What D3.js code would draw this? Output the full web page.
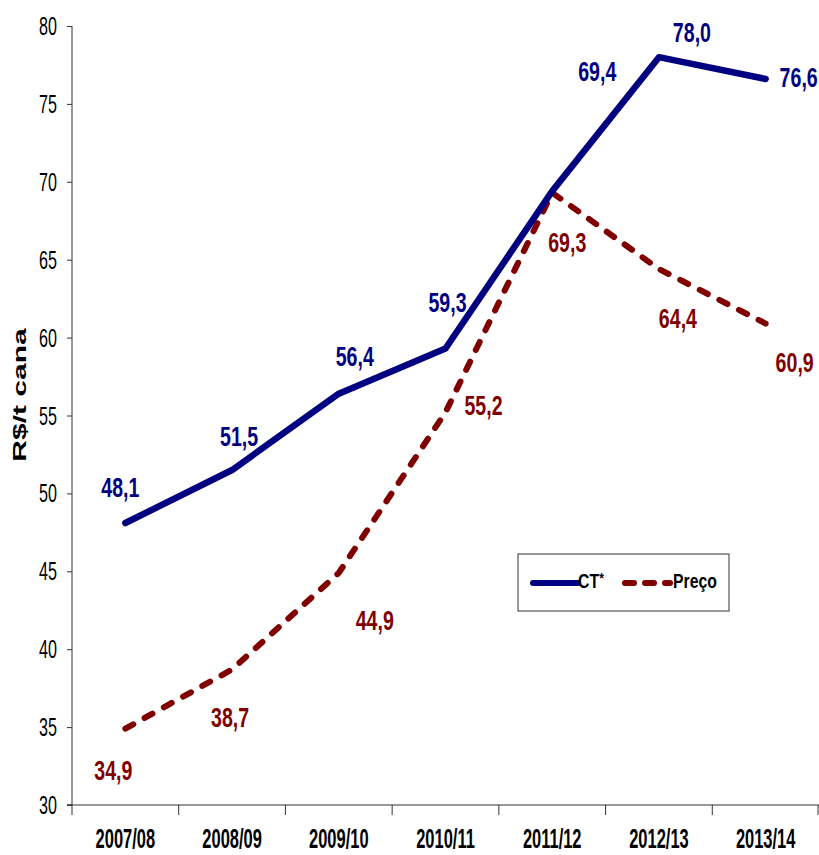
<!DOCTYPE html>
<html>
<head>
<meta charset="utf-8">
<script src="https://cdn.jsdelivr.net/npm/d3@7"></script>
<style>
  body { margin: 0; background: #fff; }
  svg { display: block; font-family: 'Liberation Sans', Arial, sans-serif; }
</style>
</head>
<body>
<script>
const seasons = ['2007/08', '2008/09', '2009/10', '2010/11', '2011/12', '2012/13', '2013/14'];
const ctValues = [48.1, 51.5, 56.4, 59.3, 69.4, 78.0, 76.6];
const precoValues = [34.9, 38.7, 44.9, 55.2, 69.3, 64.4, 60.9];
const yTicks = [30, 35, 40, 45, 50, 55, 60, 65, 70, 75, 80];
const seriesNames = ['CT', 'Preço'];
const yTitle = 'R$/t cana';

// where the data labels sit, relative to their point (layout only)
const ctLabelShift = [[-5, -26], [7, -24], [16, -28], [2, -37], [45, -110], [33, -15], [33, 8]];
const precoLabelShift = [[-12, 51], [-2, 58], [36, 57], [38, 3], [15, 59], [19, 59], [29, 48]];

const [w, h] = [819, 855];
const margin = {top: 26, right: 0, bottom: 50, left: 72};
const navy = '#000080', maroon = '#800000';

const svg = d3.select('body')
    .append('svg')
    .attr('width', w)
    .attr('height', h);

const xScale = d3.scaleBand()
    .domain(seasons)
    .range([margin.left, w - margin.right]);

const yScale = d3.scaleLinear()
    .domain([30, 80])
    .range([h - margin.bottom, margin.top]);

const fmt = v => d3.format('.1f')(v).replace('.', ',');
const cx = i => xScale(seasons[i]) + xScale.bandwidth() / 2;

// text in the picture is squeezed sideways, so scale each label in x
function squashed(parent, x, y, str, size, sx, weight, color) {
    return parent.append('text')
        .attr('transform', `translate(${x},${y}) scale(${sx},1)`)
        .attr('text-anchor', 'middle')
        .attr('font-size', size + 'px')
        .attr('font-weight', weight)
        .attr('fill', color)
        .text(str);
}

//axes
const yAxis = svg.append('g')
    .attr('transform', `translate(${margin.left},0)`)
    .call(d3.axisLeft(yScale).tickValues(yTicks).tickSize(5).tickFormat(''));
yAxis.select('.domain').attr('stroke', '#333').attr('d', `M-5,${yScale(30)}H0V${yScale(80)}`);
yAxis.selectAll('.tick line').attr('stroke', '#333');

const xAxis = svg.append('g')
    .attr('transform', `translate(0,${yScale(30)})`);
xAxis.append('line')
    .attr('x1', margin.left - 5).attr('x2', w)
    .attr('stroke', '#333');
xAxis.selectAll('line.tk')
    .data(seasons.concat(['end']))
    .join('line')
    .attr('class', 'tk')
    .attr('x1', (d, i) => i < seasons.length ? xScale(d) : w - 1)
    .attr('x2', (d, i) => i < seasons.length ? xScale(d) : w - 1)
    .attr('y1', 0).attr('y2', 10)
    .attr('stroke', '#333');

const labels = svg.append('g');
yTicks.forEach(t => squashed(labels, 48, yScale(t) + 9, String(t), 26, 0.62, 'normal', '#000'));
seasons.forEach((s, i) => squashed(labels, cx(i), 848, s, 27, 0.61, 'bold', '#000'));

svg.append('text')
    .attr('transform', `translate(26,395) rotate(-90) scale(1,0.6)`)
    .attr('text-anchor', 'middle')
    .attr('font-size', '30px')
    .attr('font-weight', 'bold')
    .text(yTitle);

//lines
const line = d3.line()
    .x((d, i) => cx(i))
    .y(d => yScale(d));

svg.append('path')
    .datum(precoValues)
    .attr('d', line)
    .attr('fill', 'none')
    .attr('stroke', maroon)
    .attr('stroke-width', 6)
    .attr('stroke-linecap', 'round')
    .attr('stroke-linejoin', 'round')
    .attr('stroke-dasharray', '9,13');

svg.append('path')
    .datum(ctValues)
    .attr('d', line)
    .attr('fill', 'none')
    .attr('stroke', navy)
    .attr('stroke-width', 6.5)
    .attr('stroke-linecap', 'round')
    .attr('stroke-linejoin', 'round');

//data labels
const dataLabels = svg.append('g');
ctValues.forEach((v, i) => squashed(dataLabels, cx(i) + ctLabelShift[i][0], yScale(v) + ctLabelShift[i][1], fmt(v), 28, 0.7, 'bold', navy));
precoValues.forEach((v, i) => squashed(dataLabels, cx(i) + precoLabelShift[i][0], yScale(v) + precoLabelShift[i][1], fmt(v), 28, 0.7, 'bold', maroon));

//legend
const legend = svg.append('g').attr('transform', 'translate(518,554)');
legend.append('rect')
    .attr('width', 211).attr('height', 57)
    .attr('fill', '#fff')
    .attr('stroke', '#333');
legend.append('line')
    .attr('x1', 15).attr('x2', 60).attr('y1', 29).attr('y2', 29)
    .attr('stroke', navy).attr('stroke-width', 6).attr('stroke-linecap', 'round');
const ct = squashed(legend, 73, 34, seriesNames[0], 19.5, 0.81, 'bold', '#000');
ct.append('tspan').attr('font-size', '15px').attr('dy', -5).text('*');
legend.append('line')
    .attr('x1', 107).attr('x2', 152).attr('y1', 29).attr('y2', 29)
    .attr('stroke', maroon).attr('stroke-width', 6).attr('stroke-linecap', 'round')
    .attr('stroke-dasharray', '9,11');
squashed(legend, 177, 34, seriesNames[1], 19.5, 0.81, 'bold', '#000');
</script>
</body>
</html>
